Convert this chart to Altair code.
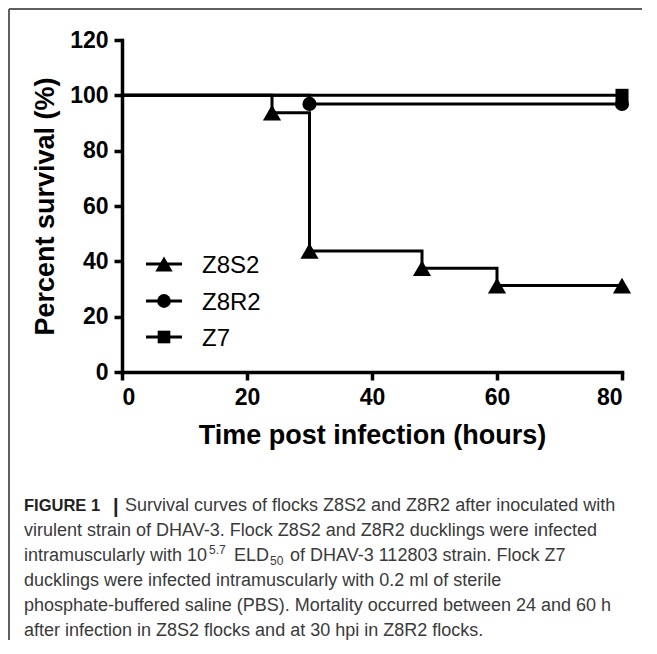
import altair as alt
import pandas as pd

# ---- data ----
groups = ["Z8S2", "Z8R2", "Z7"]
shapes = ["triangle-up", "circle", "square"]

z8s2_time = [0, 24, 30, 48, 60, 80]
z8s2_surv = [100, 93.75, 43.75, 37.5, 31.25, 31.25]
z8s2_mark_time = [24, 30, 48, 60, 80]
z8s2_mark_surv = [93.75, 43.75, 37.5, 31.25, 31.25]

z8r2_time = [0, 30, 80]
z8r2_surv = [100, 96.9, 96.9]
z8r2_mark_time = [30, 80]
z8r2_mark_surv = [96.9, 96.9]

z7_time = [0, 80]
z7_surv = [100, 100]
z7_mark_time = [80]
z7_mark_surv = [100]

x_ticks = [0, 20, 40, 60, 80]
y_ticks = [0, 20, 40, 60, 80, 100, 120]

caption_lines = [
    "Survival curves of flocks Z8S2 and Z8R2 after inoculated with",
    "virulent strain of DHAV-3. Flock Z8S2 and Z8R2 ducklings were infected",
    "intramuscularly with 10",
    "ducklings were infected intramuscularly with 0.2 ml of sterile",
    "phosphate-buffered saline (PBS). Mortality occurred between 24 and 60 h",
    "after infection in Z8S2 flocks and at 30 hpi in Z8R2 flocks.",
]

lines_df = pd.concat([
    pd.DataFrame({"group": "Z8S2", "t": z8s2_time, "s": z8s2_surv}),
    pd.DataFrame({"group": "Z8R2", "t": z8r2_time, "s": z8r2_surv}),
    pd.DataFrame({"group": "Z7", "t": z7_time, "s": z7_surv}),
], ignore_index=True)

marks_df = pd.concat([
    pd.DataFrame({"group": "Z8S2", "t": z8s2_mark_time, "s": z8s2_mark_surv}),
    pd.DataFrame({"group": "Z8R2", "t": z8r2_mark_time, "s": z8r2_mark_surv}),
    pd.DataFrame({"group": "Z7", "t": z7_mark_time, "s": z7_mark_surv}),
], ignore_index=True)

W, H = 500, 332
FONT = "Liberation Sans"

xscale = alt.Scale(domain=[0, 80], nice=False, zero=False)
yscale = alt.Scale(domain=[0, 120], nice=False)

xenc = alt.X("t:Q", scale=xscale,
             axis=alt.Axis(values=x_ticks, title="Time post infection (hours)",
                           titlePadding=13))
yenc = alt.Y("s:Q", scale=yscale,
             axis=alt.Axis(values=y_ticks, title="Percent survival (%)",
                           titlePadding=10))

base_lines = alt.Chart(lines_df).mark_line(
    interpolate="step-after", color="black", strokeWidth=3
).encode(x=xenc, y=yenc, detail="group:N", order="t:Q")

size_map = {"triangle-up": 330, "circle": 200, "square": 170}
point_layers = []
for g, sh in zip(groups, shapes):
    point_layers.append(
        alt.Chart(marks_df).transform_filter(alt.datum.group == g)
        .mark_point(shape=sh, filled=True, color="black", opacity=1,
                    size=size_map[sh])
        .encode(x="t:Q", y="s:Q")
    )

# ---- legend (inside plot, lower left) ----
legend_layers = []
leg_rows = [224, 261, 297]
leg_size = {"triangle-up": 300, "circle": 190, "square": 160}
for g, sh, ry in zip(groups, shapes, leg_rows):
    d = pd.DataFrame({"label": [g]})
    legend_layers.append(
        alt.Chart(d).mark_rule(color="black", strokeWidth=3).encode(
            x=alt.value(24), x2=alt.value(60), y=alt.value(ry))
    )
    legend_layers.append(
        alt.Chart(d).mark_point(shape=sh, filled=True, color="black",
                                opacity=1, size=leg_size[sh]).encode(
            x=alt.value(42), y=alt.value(ry))
    )
    legend_layers.append(
        alt.Chart(d).mark_text(align="left", baseline="alphabetic",
                               font=FONT, fontSize=24, color="black").encode(
            x=alt.value(80), y=alt.value(ry + 9), text="label:N")
    )

# ---- caption ----
cap_color = "#3a3a3a"
cap_x = -98
cap_base = 471
cap_step = 25
cap_size = 18
caption_layers = []


def txt(s, x, y, size=cap_size, weight="normal", color=cap_color):
    return alt.Chart(pd.DataFrame({"txt": [s]})).mark_text(
        align="left", baseline="alphabetic", font=FONT, fontSize=size,
        fontWeight=weight, color=color
    ).encode(x=alt.value(x), y=alt.value(y), text="txt:N")


caption_layers.append(txt("FIGURE 1", cap_x, cap_base, size=16.5,
                          weight="bold", color="#222222"))
caption_layers.append(txt("|", -9, cap_base + 2, size=20,
                          weight="bold", color="#222222"))
caption_layers.append(txt(caption_lines[0], 3, cap_base))
caption_layers.append(txt(caption_lines[1], cap_x, cap_base + cap_step))
y3 = cap_base + 2 * cap_step
caption_layers.append(txt(caption_lines[2], cap_x, y3))
caption_layers.append(txt("5.7", 87, y3 - 7, size=12))
caption_layers.append(txt("ELD", 112, y3))
caption_layers.append(txt("50", 148, y3 + 4, size=12))
caption_layers.append(txt("of DHAV-3 112803 strain. Flock Z7", 168, y3))
caption_layers.append(txt(caption_lines[3], cap_x, cap_base + 3 * cap_step))
caption_layers.append(txt(caption_lines[4], cap_x, cap_base + 4 * cap_step))
caption_layers.append(txt(caption_lines[5], cap_x, cap_base + 5 * cap_step))

# ---- outer frame (top and left edges) ----
one = pd.DataFrame({"k": [0]})
frame = [
    alt.Chart(one).mark_rule(color="#5f5f5f", strokeWidth=2).encode(
        x=alt.value(-113), x2=alt.value(520), y=alt.value(-31)),
    alt.Chart(one).mark_rule(color="#5f5f5f", strokeWidth=2).encode(
        x=alt.value(-113), y=alt.value(-31), y2=alt.value(600)),
]

chart = alt.layer(
    base_lines, *point_layers, *legend_layers, *caption_layers, *frame
).properties(
    width=W, height=H,
    autosize=alt.AutoSizeParams(type="none"),
    padding={"left": 114, "top": 32, "right": 27, "bottom": 269},
).configure_view(stroke=None).configure_axis(
    grid=False,
    domainColor="black", domainWidth=3.5, domainCap="square",
    tickColor="black", tickWidth=3.5, tickSize=8,
    labelFont=FONT, labelFontSize=23, labelFontWeight="bold",
    labelColor="black", labelPadding=6,
    titleFont=FONT, titleFontSize=27, titleFontWeight="bold",
    titleColor="black",
)

chart.save("out.html", embed_options={"renderer": "svg", "actions": False})
